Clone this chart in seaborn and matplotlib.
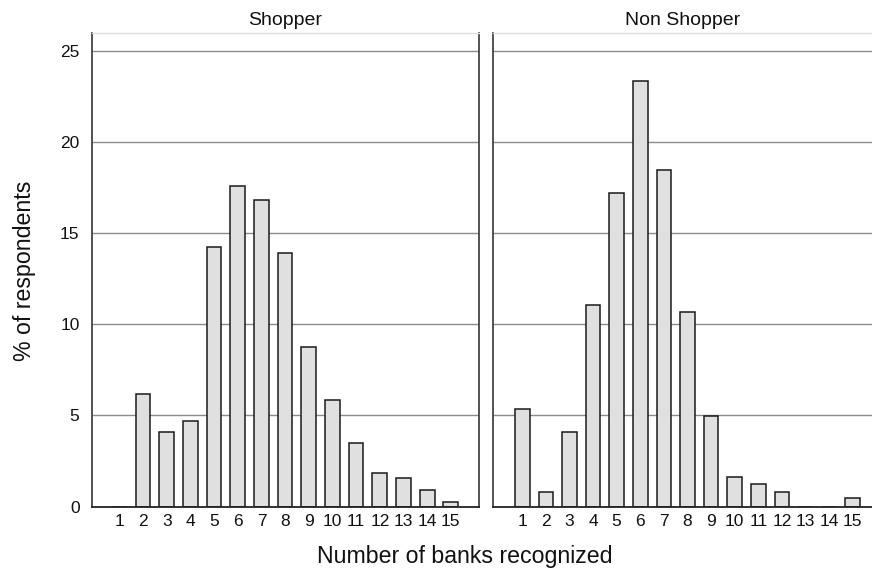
import matplotlib
matplotlib.use("Agg")
import matplotlib.pyplot as plt
import pandas as pd
import seaborn as sns

# Share of respondents by number of banks recognized
banks = list(range(1, 16))
shopper_pct = [0, 6.2, 4.1, 4.7, 14.25, 17.6, 16.8, 13.9, 8.75, 5.85, 3.5, 1.85, 1.55, 0.92, 0.27]
non_shopper_pct = [5.35, 0.82, 4.1, 11.05, 17.2, 23.35, 18.48, 10.7, 4.98, 1.65, 1.25, 0.82, 0, 0, 0.47]
groups = ["Shopper", "Non Shopper"]
y_ticks = [0, 5, 10, 15, 20, 25]

df = pd.DataFrame({
    "banks": [str(b) for b in banks] * 2,
    "pct": shopper_pct + non_shopper_pct,
    "group": [groups[0]] * len(banks) + [groups[1]] * len(banks),
})

sns.set_style("white")
plt.rcParams["font.family"] = ["Liberation Sans", "DejaVu Sans"]

fig = plt.figure(figsize=(8.72, 5.74), dpi=100)
W, H = 872, 574


def px_axes(x0, x1, y_top, y_bot):
    return fig.add_axes([x0 / W, 1 - y_bot / H, (x1 - x0) / W, (y_bot - y_top) / H])


ax_left = px_axes(92, 479, 33, 506.7)
ax_right = px_axes(493, 872, 33, 506.7)

order = [str(b) for b in banks]
for ax, grp, xlim in [(ax_left, groups[0], (-1.16, 15.19)),
                      (ax_right, groups[1], (-1.24, 14.82))]:
    sub = df[df["group"] == grp]
    sns.barplot(data=sub, x="banks", y="pct", order=order, ax=ax,
                color="#e0e0e0", saturation=1, width=0.62,
                edgecolor="#1a1a1a", linewidth=1.1, errorbar=None)
    ax.set_xlim(*xlim)
    ax.set_ylim(0, 25.97)
    ax.set_yticks(y_ticks)
    ax.set_axisbelow(True)
    for v in y_ticks[1:]:
        ax.axhline(v, color="#8a8a8a", linewidth=1.0, zorder=0)
    ax.set_xlabel("")
    ax.set_ylabel("")
    ax.tick_params(axis="x", length=0, labelsize=12.5, pad=5, colors="#111111")
    ax.set_title(grp, fontsize=14, pad=6, color="#111111")
    ax.spines["top"].set_color("#dddddd")
    ax.spines["top"].set_linewidth(1.0)
    ax.spines["bottom"].set_color("#222222")
    ax.spines["bottom"].set_linewidth(1.3)
    ax.spines["left"].set_color("#444444")
    ax.spines["left"].set_linewidth(1.3)

ax_left.spines["right"].set_color("#444444")
ax_left.spines["right"].set_linewidth(1.3)
ax_left.tick_params(axis="y", length=6, width=1.0, color="#444444",
                    labelsize=12.5, pad=3)
for lbl in ax_left.get_yticklabels():
    lbl.set_color("#111111")

ax_right.spines["right"].set_visible(False)
ax_right.tick_params(axis="y", length=0, labelleft=False)

fig.text(24 / W, 1 - 271 / H, "% of respondents", rotation=90,
         ha="center", va="center", fontsize=16.7, color="#111111")
fig.text(465 / W, 1 - 556 / H, "Number of banks recognized",
         ha="center", va="center", fontsize=16.7, color="#111111")

fig.savefig("out.png", dpi=100, facecolor="white")
